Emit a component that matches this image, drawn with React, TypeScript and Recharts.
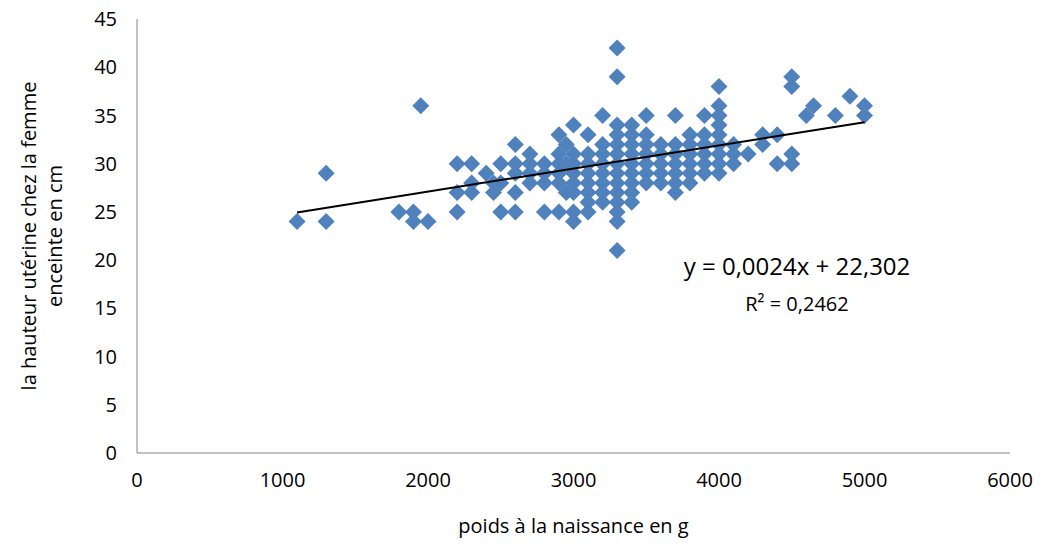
import React from "react";
import { ComposedChart, Scatter, XAxis, YAxis } from "recharts";

const groups: [number, number[]][] = [
  [1100, [24]], [1300, [24, 29]], [1800, [25]], [1900, [25, 24]], [1950, [36]], [2000, [24]],
  [2200, [30, 27, 25]], [2300, [30, 28, 27]], [2400, [29]], [2450, [27, 28]], [2500, [30, 25, 28]],
  [2600, [32, 30, 29, 27, 25]], [2700, [31, 30, 29, 28]], [2800, [30, 29, 28, 25]],
  [2900, [33, 31, 30, 29, 28, 25]], [2950, [32, 30, 27]], [3000, [34, 31, 30, 29, 28, 27, 25, 24]],
  [3100, [33, 31, 30, 29, 28, 27, 26, 25]], [3200, [35, 32, 31, 30, 29, 28, 27, 26]],
  [3300, [42, 39, 34, 33, 32, 31, 30, 29, 28, 27, 26, 25, 24, 21]],
  [3400, [34, 33, 32, 31, 30, 29, 28, 27, 26]], [3500, [35, 33, 32, 31, 30, 29, 28]],
  [3600, [32, 31, 30, 29, 28]], [3700, [35, 32, 31, 30, 29, 28, 27]], [3800, [33, 32, 31, 30, 29, 28]],
  [3900, [35, 33, 32, 31, 30, 29]], [4000, [38, 36, 35, 34, 33, 32, 31, 30, 29]],
  [4100, [32, 31, 30]], [4200, [31]], [4300, [33, 32]], [4400, [33, 30]], [4500, [39, 38, 31, 30]],
  [4600, [35]], [4650, [36]], [4800, [35]], [4900, [37]], [5000, [36, 35]],
];
const points = groups.flatMap(([x, ys]) => ys.map((y) => ({ x, y })));
const slope = 0.0024;
const intercept = 22.302;
const trendX = [1100, 5000];
const trend = trendX.map((x) => ({ x, y: slope * x + intercept }));
const xTicks = [0, 1000, 2000, 3000, 4000, 5000, 6000];
const yTicks = [0, 5, 10, 15, 20, 25, 30, 35, 40, 45];

const Diamond = (p: any) => {
  const { cx, cy } = p;
  const r = 8.5;
  return <polygon points={`${cx},${cy - r} ${cx + r},${cy} ${cx},${cy + r} ${cx - r},${cy}`} fill="#4F81BD" />;
};

const font = "'Open Sans', sans-serif";

export default function App() {
  return (
    <div style={{ position: "absolute", left: 0, top: 0, fontFamily: font }}>
      <ComposedChart width={1042} height={544} margin={{ top: 19, right: 32, bottom: 61, left: 65 }}>
        <XAxis type="number" dataKey="x" domain={[0, 6000]} ticks={xTicks} tickLine={false}
          axisLine={{ stroke: "#868686" }} tick={{ fill: "#000", fontSize: 20 }} tickMargin={14}
          label={{ value: "poids à la naissance en g", position: "insideBottom", offset: -50, fill: "#000", fontSize: 20 }} />
        <YAxis type="number" dataKey="y" domain={[0, 45]} ticks={yTicks} tickLine={false} width={72}
          axisLine={{ stroke: "#868686" }} tick={{ fill: "#000", fontSize: 20 }} tickMargin={14} />
        <Scatter data={points} shape={Diamond} isAnimationActive={false} />
        <Scatter data={trend} line={{ stroke: "#000", strokeWidth: 2 }} shape={() => null} isAnimationActive={false} />
        <text x={36} y={236} transform="rotate(-90 36 236)" textAnchor="middle" fontSize={20} fill="#000">
          <tspan x={36} dy={0}>la hauteur utérine chez la femme</tspan>
          <tspan x={36} dy={26}>enceinte en cm</tspan>
        </text>
        <text x={797} y={275} textAnchor="middle" fontSize={24} fill="#000">y = 0,0024x + 22,302</text>
        <text x={797} y={311} textAnchor="middle" fontSize={20} fill="#000">R² = 0,2462</text>
      </ComposedChart>
    </div>
  );
}
